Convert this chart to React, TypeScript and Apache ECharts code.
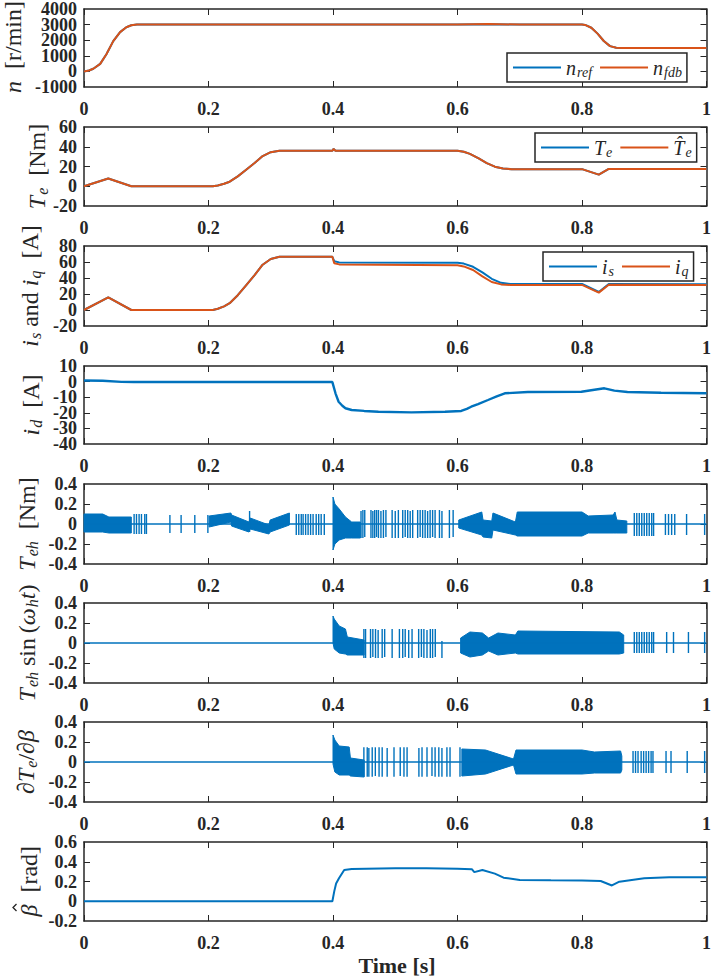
import React, { useEffect, useRef } from "react";
import * as echarts from "echarts";

const BLUE = "#0072BD";
const ORANGE = "#D95319";
const AX = "#262626";
const FONT = "Liberation Serif, serif";

// ---------- Panel 1: speed ----------
const speedT = [0, 0.008, 0.015, 0.026, 0.036, 0.047, 0.058, 0.068, 0.076, 0.085, 0.1, 0.2, 0.4, 0.6, 0.65, 0.7, 0.8, 0.805, 0.815, 0.825, 0.835, 0.845, 0.855, 0.865, 1.0];
const speedRef = [0, 60, 170, 480, 1100, 1940, 2520, 2830, 2960, 3000, 3000, 3000, 3000, 3000, 3030, 3000, 3000, 2980, 2800, 2420, 1950, 1620, 1520, 1500, 1500];
const speedFdb = [0, 60, 170, 480, 1100, 1940, 2520, 2830, 2960, 3000, 3000, 3000, 3010, 3000, 3040, 3000, 3000, 2980, 2800, 2420, 1950, 1620, 1520, 1500, 1500];

// ---------- Panel 2: torque ----------
const torqueT = [0, 0.039, 0.076, 0.207, 0.215, 0.225, 0.234, 0.247, 0.26, 0.274, 0.287, 0.3, 0.314, 0.399, 0.401, 0.404, 0.6, 0.61, 0.62, 0.634, 0.647, 0.66, 0.673, 0.687, 0.8, 0.827, 0.843, 1];
const torqueTe = [0, 7.8, 0, 0, 0.8, 2.5, 4.6, 10, 16.5, 23.5, 30.6, 34.5, 36, 36, 37.8, 36, 36, 35, 32.8, 28.2, 23.5, 19.8, 18, 17.3, 17.3, 11.8, 17.5, 17.5];
const torqueTeHat = [0, 7.8, 0, 0, 0.8, 2.5, 4.6, 10, 16.5, 23.5, 30.6, 34.5, 36, 36, 37.8, 36, 36, 35, 32.8, 28.2, 23.5, 19.8, 18, 17.3, 17.3, 11.8, 17.5, 17.5];

// ---------- Panel 3: is, iq ----------
const curT = [0, 0.039, 0.076, 0.207, 0.215, 0.225, 0.234, 0.247, 0.26, 0.274, 0.287, 0.3, 0.314, 0.399, 0.402, 0.41, 0.6, 0.61, 0.625, 0.64, 0.655, 0.67, 0.685, 0.8, 0.827, 0.843, 1];
const isVals = [0, 15.8, 0, 0, 1.5, 4.6, 8.5, 18.5, 30.5, 43.5, 56.6, 63.8, 66.5, 66.5, 61, 59.5, 59, 58, 54, 47, 39, 34, 32.5, 32.5, 22.5, 32.5, 32.3];
const iqVals = [0, 15.8, 0, 0, 1.5, 4.6, 8.5, 18.5, 30.5, 43.5, 56.6, 63.8, 66.5, 66.5, 58.5, 57, 56, 54.5, 50, 42, 35, 32, 31.3, 31.3, 21.7, 31.5, 31.3];

// ---------- Panel 4: id ----------
const idT = [0, 0.03, 0.06, 0.08, 0.399, 0.404, 0.409, 0.415, 0.42, 0.43, 0.45, 0.473, 0.526, 0.58, 0.606, 0.615, 0.622, 0.633, 0.649, 0.663, 0.676, 0.713, 0.799, 0.82, 0.836, 0.852, 0.873, 0.927, 1];
const idVals = [0.7, 0.5, -0.2, -0.3, -0.3, -7.5, -12.9, -15.5, -17.1, -18.2, -18.8, -19.3, -19.7, -19.3, -18.8, -17.5, -16.1, -14.4, -11.8, -9.5, -7.5, -6.7, -6.5, -5.2, -4.3, -5.8, -6.7, -7.1, -7.5];

// ---------- Panel 5: Teh (bands [t, lo, hi] and spikes [t, lo, hi]) ----------
const tehBands = [
  [[0, -0.08, 0.1], [0.03, -0.08, 0.1], [0.04, -0.09, 0.07], [0.076, -0.09, 0.07]],
  [[0.201, -0.03, 0.08], [0.236, 0.02, 0.11], [0.237, -0.02, 0.09], [0.265, -0.08, 0.02], [0.267, -0.05, 0.06], [0.297, -0.1, -0.01], [0.299, -0.08, 0.04], [0.33, -0.01, 0.11]],
  [[0.4, -0.26, 0.27], [0.403, -0.2, 0.2], [0.41, -0.16, 0.15], [0.42, -0.14, 0.07], [0.43, -0.14, 0.02], [0.444, -0.14, 0.02]],
  [[0.602, -0.04, 0.04], [0.639, -0.11, 0.12], [0.641, -0.13, 0.04], [0.655, -0.14, 0.03], [0.657, -0.06, 0.11], [0.693, -0.11, 0.02], [0.696, -0.12, 0.12], [0.8, -0.12, 0.12], [0.81, -0.09, 0.08], [0.85, -0.09, 0.09], [0.853, -0.09, 0.12], [0.856, -0.09, 0.04], [0.872, -0.09, 0.03]],
];
const tehSpikes = [
  [0.0805, -0.1, 0.1], [0.0843, -0.1, 0.1], [0.0885, -0.1, 0.1], [0.0923, -0.1, 0.1], [0.0976, -0.1, 0.1], [0.1003, -0.1, 0.1],
  [0.138, -0.09, 0.09], [0.156, -0.09, 0.09], [0.178, -0.09, 0.09], [0.199, -0.09, 0.09],
  [0.266, -0.08, 0.13],
  [0.341, -0.11, 0.1], [0.345, -0.11, 0.1], [0.349, -0.11, 0.1], [0.352, -0.11, 0.1], [0.356, -0.11, 0.1], [0.36, -0.11, 0.1],
  [0.364, -0.11, 0.1], [0.368, -0.11, 0.1], [0.373, -0.11, 0.1], [0.377, -0.11, 0.1], [0.381, -0.11, 0.1], [0.386, -0.11, 0.1],
  [0.445, -0.14, 0.13], [0.448, -0.14, 0.14], [0.451, -0.13, 0.14], [0.461, -0.14, 0.14], [0.464, -0.14, 0.13], [0.467, -0.14, 0.14],
  [0.47, -0.13, 0.14], [0.473, -0.14, 0.14], [0.477, -0.14, 0.13], [0.481, -0.14, 0.14], [0.485, -0.13, 0.14], [0.495, -0.14, 0.14],
  [0.5, -0.14, 0.13], [0.505, -0.14, 0.14], [0.512, -0.14, 0.14], [0.516, -0.13, 0.14], [0.52, -0.14, 0.14], [0.524, -0.14, 0.13],
  [0.528, -0.14, 0.14], [0.536, -0.14, 0.14], [0.54, -0.13, 0.14], [0.544, -0.14, 0.14], [0.548, -0.14, 0.14], [0.552, -0.14, 0.13],
  [0.556, -0.14, 0.14], [0.56, -0.13, 0.14], [0.564, -0.14, 0.14], [0.571, -0.14, 0.14], [0.575, -0.14, 0.13], [0.587, -0.14, 0.14], [0.593, -0.13, 0.14],
  [0.884, -0.12, 0.11], [0.888, -0.12, 0.11], [0.892, -0.12, 0.11], [0.896, -0.12, 0.11], [0.9, -0.12, 0.11], [0.904, -0.12, 0.11],
  [0.908, -0.12, 0.11], [0.912, -0.12, 0.11], [0.915, -0.12, 0.11],
  [0.934, -0.11, 0.1], [0.939, -0.11, 0.1], [0.944, -0.11, 0.1], [0.949, -0.11, 0.1], [0.968, -0.11, 0.1], [0.997, -0.11, 0.1],
];

// ---------- Panel 6: Teh sin(wh t) ----------
const tehSinBands = [
  [[0.4, 0.0, 0.27], [0.402, -0.06, 0.24], [0.41, -0.1, 0.17], [0.42, -0.11, 0.14], [0.423, -0.12, 0.06], [0.45, -0.12, 0.03]],
  [[0.605, -0.1, 0.05], [0.62, -0.14, 0.11], [0.64, -0.12, 0.1], [0.65, -0.08, 0.05], [0.665, -0.12, 0.1], [0.693, -0.1, 0.08], [0.697, -0.11, 0.12], [0.86, -0.11, 0.11], [0.867, -0.1, 0.08]],
];
const tehSinSpikes = [
  [0.4496, -0.15, 0.14], [0.4523, -0.15, 0.14], [0.4603, -0.15, 0.14], [0.464, -0.14, 0.14], [0.4683, -0.15, 0.14], [0.4725, -0.15, 0.13],
  [0.479, -0.15, 0.14], [0.483, -0.14, 0.14], [0.495, -0.15, 0.14], [0.5067, -0.15, 0.14], [0.512, -0.15, 0.14], [0.516, -0.14, 0.14],
  [0.5216, -0.15, 0.13], [0.527, -0.15, 0.14], [0.5376, -0.15, 0.14], [0.542, -0.14, 0.14], [0.546, -0.15, 0.14], [0.551, -0.15, 0.13],
  [0.5563, -0.15, 0.14], [0.56, -0.15, 0.14], [0.5643, -0.14, 0.14], [0.575, -0.15, 0.02],
  [0.884, -0.1, 0.11], [0.888, -0.1, 0.11], [0.892, -0.1, 0.11], [0.896, -0.1, 0.11], [0.9, -0.1, 0.11], [0.904, -0.1, 0.11],
  [0.908, -0.1, 0.11], [0.912, -0.1, 0.11], [0.915, -0.1, 0.11],
  [0.936, -0.1, 0.11], [0.947, -0.1, 0.11], [0.971, -0.1, 0.11], [0.997, -0.1, 0.11],
];

// ---------- Panel 7: dTe/dbeta ----------
const dTeBands = [
  [[0.4, -0.02, 0.27], [0.403, -0.1, 0.22], [0.41, -0.13, 0.16], [0.426, -0.13, 0.15], [0.428, -0.14, 0.04], [0.45, -0.15, 0.02]],
  [[0.607, -0.14, 0.13], [0.645, -0.12, 0.12], [0.69, -0.03, 0.03], [0.694, -0.12, 0.12], [0.8, -0.12, 0.12], [0.82, -0.11, 0.1], [0.862, -0.11, 0.11], [0.864, -0.08, 0.06]],
];
const dTeSpikes = [
  [0.4496, -0.147, 0.147], [0.455, -0.147, 0.147], [0.4576, -0.147, 0.14], [0.463, -0.147, 0.147], [0.468, -0.14, 0.147], [0.474, -0.147, 0.147],
  [0.479, -0.147, 0.147], [0.487, -0.147, 0.14], [0.498, -0.147, 0.147], [0.508, -0.14, 0.147], [0.514, -0.147, 0.147], [0.519, -0.147, 0.147],
  [0.538, -0.147, 0.14], [0.543, -0.147, 0.147], [0.551, -0.147, 0.147], [0.559, -0.14, 0.147], [0.564, -0.147, 0.147], [0.57, -0.147, 0.147],
  [0.575, -0.147, 0.14], [0.583, -0.147, 0.147], [0.588, -0.147, 0.147], [0.604, -0.147, 0.147],
  [0.882, -0.11, 0.11], [0.886, -0.11, 0.11], [0.89, -0.11, 0.11], [0.895, -0.11, 0.11], [0.899, -0.11, 0.11], [0.903, -0.11, 0.11],
  [0.907, -0.11, 0.11], [0.911, -0.11, 0.11], [0.914, -0.11, 0.11],
  [0.935, -0.11, 0.11], [0.943, -0.11, 0.11], [0.969, -0.11, 0.11], [0.997, -0.11, 0.11],
];

// ---------- Panel 8: beta hat ----------
const betaT = [0, 0.399, 0.402, 0.405, 0.4096, 0.418, 0.43, 0.5, 0.55, 0.6, 0.623, 0.627, 0.64, 0.66, 0.674, 0.7, 0.75, 0.8, 0.83, 0.848, 0.86, 0.9, 0.94, 1];
const betaVals = [0, 0, 0.1, 0.18, 0.232, 0.317, 0.327, 0.335, 0.333, 0.33, 0.325, 0.295, 0.317, 0.28, 0.239, 0.215, 0.212, 0.21, 0.205, 0.16, 0.198, 0.232, 0.242, 0.242];

// ---------- Axes ----------
const yMin = [-1000, -20, -20, -40, -0.4, -0.4, -0.4, -0.2];
const yMax = [4000, 60, 80, 10, 0.4, 0.4, 0.4, 0.6];
const yStep = [1000, 20, 20, 10, 0.2, 0.2, 0.2, 0.2];

const yLabels = [
  "{it|n}{rm|  [r/min]}",
  "{it|T}{sub|e}{rm|  [Nm]}",
  "{it|i}{sub|s}{rm| and }{it|i}{sub|q}{rm|  [A]}",
  "{it|i}{sub|d}{rm|  [A]}",
  "{it|T}{sub|eh}{rm|  [Nm]}",
  "{it|T}{sub|eh}{rm| sin\u2009(}{it|ω}{sub|h}{it|t}{rm|)}",
  "{rm|∂}{it|T}{sub|e}{rm|/∂}{it|β}",
  "{it|β}{rm|  [rad]}",
];
const legendLabels: Record<string, string> = {
  nref: "{it|n}{sub|ref}",
  nfdb: "{it|n}{sub|fdb}",
  Te: "{it|T}{sub|e}",
  TeHat: "{it|T\u0302}{sub|e}",
  is: "{it|i}{sub|s}",
  iq: "{it|i}{sub|q}",
};

// layout
const GRID_TOP = [7, 127, 246, 366, 484, 603, 722, 842];
const GRID_H = [80, 79, 80, 78, 80, 80, 80, 79];
const Y_LABEL_X = [13, 37, 30, 31, 27, 27, 26, 28.5];

const pair = (t: number[], v: number[]) => t.map((x, i) => [x, v[i]]);
const fmt = (v: number) => String(Math.round(v * 1000) / 1000);

function lineSeries(name: string, k: number, data: number[][], color: string, width = 2, z = 3) {
  return {
    type: "line",
    name,
    xAxisIndex: k,
    yAxisIndex: k,
    data,
    symbol: "none",
    showSymbol: false,
    color,
    lineStyle: { color, width },
    z,
    silent: true,
  };
}

function bandSeries(k: number, bands: number[][][]) {
  return {
    type: "custom",
    xAxisIndex: k,
    yAxisIndex: k,
    data: bands.map((b) => [b[0][0], 0]),
    encode: { x: 0, y: 1 },
    silent: true,
    z: 2,
    renderItem: (params: any, api: any) => {
      const b = bands[params.dataIndex];
      const up = b.map((p) => api.coord([p[0], p[2]]));
      const lo = b.slice().reverse().map((p) => api.coord([p[0], p[1]]));
      return {
        type: "polygon",
        shape: { points: up.concat(lo) },
        style: { fill: BLUE, stroke: BLUE, lineWidth: 1 },
      };
    },
  };
}

function spikeSeries(k: number, spikes: number[][]) {
  return {
    type: "custom",
    xAxisIndex: k,
    yAxisIndex: k,
    data: spikes,
    encode: { x: 0, y: [1, 2] },
    silent: true,
    z: 2,
    renderItem: (params: any, api: any) => {
      const a = api.coord([api.value(0), api.value(1)]);
      const b = api.coord([api.value(0), api.value(2)]);
      return {
        type: "line",
        shape: { x1: a[0], y1: a[1], x2: b[0], y2: b[1] },
        style: { stroke: BLUE, lineWidth: 1.4 },
      };
    },
  };
}

function buildOption() {
  const axisLine = { show: true, onZero: false, lineStyle: { color: AX, width: 1.5 } };
  const axisTick = { show: true, inside: true, length: 6, lineStyle: { color: AX, width: 1 } };
  const labelStyle = { color: AX, fontSize: 18, fontWeight: "bold", fontFamily: FONT, formatter: fmt, hideOverlap: false };

  const grid = GRID_TOP.map((top, i) => ({ left: 84, top, width: 625, height: GRID_H[i] }));
  const xAxis: any[] = [];
  const yAxis: any[] = [];
  // 0..7: main bottom / left axes (left shows inner tick labels)
  for (let i = 0; i < 8; i++) {
    xAxis.push({ type: "value", gridIndex: i, position: "bottom", min: 0, max: 1, interval: 0.2, axisLine, axisTick, axisLabel: { ...labelStyle, margin: 13, showMinLabel: true, showMaxLabel: true }, splitLine: { show: false } });
    yAxis.push({ type: "value", gridIndex: i, position: "left", min: yMin[i], max: yMax[i], interval: yStep[i], axisLine, axisTick, axisLabel: { ...labelStyle, margin: 7, showMinLabel: false, showMaxLabel: false }, splitLine: { show: false } });
  }
  // 8..15: box top / right axes
  for (let i = 0; i < 8; i++) {
    xAxis.push({ type: "value", gridIndex: i, position: "top", min: 0, max: 1, interval: 0.2, axisLine, axisTick, axisLabel: { show: false }, splitLine: { show: false } });
    yAxis.push({ type: "value", gridIndex: i, position: "right", min: yMin[i], max: yMax[i], interval: yStep[i], axisLine, axisTick, axisLabel: { show: false }, splitLine: { show: false } });
  }
  // 16..23: left axes that carry only the end (min / max) tick labels
  for (let i = 0; i < 8; i++) {
    const lo = yMin[i];
    const hi = yMax[i];
    yAxis.push({
      type: "value", gridIndex: i, position: "left", min: lo, max: hi, interval: yStep[i],
      axisLine: { show: false }, axisTick: { show: false }, splitLine: { show: false },
      axisLabel: {
        ...labelStyle, margin: 7, showMinLabel: true, showMaxLabel: true,
        formatter: (v: number) => (Math.abs(v - lo) < 1e-9 || Math.abs(v - hi) < 1e-9 ? fmt(v) : ""),
      },
    });
  }

  const zero = [[0, 0], [1, 0]];
  const series: any[] = [
    lineSeries("nref", 0, pair(speedT, speedRef), BLUE, 2, 3),
    lineSeries("nfdb", 0, pair(speedT, speedFdb), ORANGE, 2, 4),
    lineSeries("Te", 1, pair(torqueT, torqueTe), BLUE, 2, 3),
    lineSeries("TeHat", 1, pair(torqueT, torqueTeHat), ORANGE, 2, 4),
    lineSeries("is", 2, pair(curT, isVals), BLUE, 2, 3),
    lineSeries("iq", 2, pair(curT, iqVals), ORANGE, 2, 4),
    lineSeries("id", 3, pair(idT, idVals), BLUE, 2.4, 3),
    lineSeries("tehZero", 4, zero, BLUE, 1.5, 2),
    bandSeries(4, tehBands),
    spikeSeries(4, tehSpikes),
    lineSeries("tehSinZero", 5, zero, BLUE, 1.5, 2),
    bandSeries(5, tehSinBands),
    spikeSeries(5, tehSinSpikes),
    lineSeries("dTeZero", 6, zero, BLUE, 1.5, 2),
    bandSeries(6, dTeBands),
    spikeSeries(6, dTeSpikes),
    lineSeries("beta", 7, pair(betaT, betaVals), BLUE, 2, 3),
  ];

  const legendRich = {
    it: { fontStyle: "italic", fontSize: 20, fontFamily: FONT, color: AX, lineHeight: 22 },
    sub: { fontStyle: "italic", fontSize: 14, fontFamily: FONT, color: AX, lineHeight: 22, padding: [9, 0, 0, 1] },
  };
  const legendBase = {
    orient: "horizontal",
    backgroundColor: "#fff",
    borderColor: AX,
    borderWidth: 1.5,
    borderRadius: 0,
    icon: "rect",
    itemWidth: 48,
    itemHeight: 2,
    itemGap: 8,
    selectedMode: false,
    padding: [3, 5, 3, 6],
    textStyle: { color: AX, fontFamily: FONT, fontSize: 20, rich: legendRich },
    formatter: (name: string) => legendLabels[name] || name,
  };
  const legend = [
    { ...legendBase, left: 507, top: 53, data: ["nref", "nfdb"] },
    { ...legendBase, left: 535, top: 133, data: ["Te", "TeHat"] },
    { ...legendBase, left: 543, top: 252, data: ["is", "iq"] },
  ];

  const yRich = {
    it: { fontStyle: "italic", fontSize: 24, fontFamily: FONT, fill: AX, lineHeight: 28 },
    rm: { fontSize: 24, fontFamily: FONT, fill: AX, lineHeight: 28 },
    sub: { fontStyle: "italic", fontSize: 16, fontFamily: FONT, fill: AX, lineHeight: 28, padding: [11, 0, 0, 1] },
  };
  const graphic: any[] = yLabels.map((txt, i) => {
    const cy = GRID_TOP[i] + GRID_H[i] / 2;
    if (i === 7) {
      // beta-hat label: text plus a small circumflex stroke placed over the beta
      return {
        type: "group",
        x: Y_LABEL_X[i],
        y: cy,
        rotation: Math.PI / 2,
        silent: true,
        children: [
          { type: "text", x: -35, y: 0, style: { text: txt, rich: yRich, fill: AX, font: `24px ${FONT}`, align: "left", verticalAlign: "middle" } },
          { type: "polyline", shape: { points: [[-29.5, -12], [-26, -15.5], [-22.5, -12]] }, style: { stroke: AX, lineWidth: 1.3, fill: "none" } },
        ],
      };
    }
    return {
      type: "text",
      x: Y_LABEL_X[i],
      y: cy,
      rotation: Math.PI / 2,
      silent: true,
      style: { text: txt, rich: yRich, fill: AX, font: `24px ${FONT}`, align: "center", verticalAlign: "middle" },
    };
  });
  graphic.push({
    type: "text",
    x: 397,
    y: 965,
    silent: true,
    style: { text: "Time [s]", fill: AX, font: `bold 22px ${FONT}`, align: "center", verticalAlign: "middle" },
  });

  return { animation: false, backgroundColor: "#fff", grid, xAxis, yAxis, series, legend, graphic };
}

export default function App() {
  const ref = useRef<HTMLDivElement>(null);
  useEffect(() => {
    if (!ref.current) return;
    const chart = echarts.init(ref.current, undefined, { renderer: "svg" });
    chart.setOption(buildOption() as any);
    return () => chart.dispose();
  }, []);
  return <div ref={ref} style={{ position: "absolute", left: 0, top: 0, width: 714, height: 979, background: "#fff" }} />;
}
